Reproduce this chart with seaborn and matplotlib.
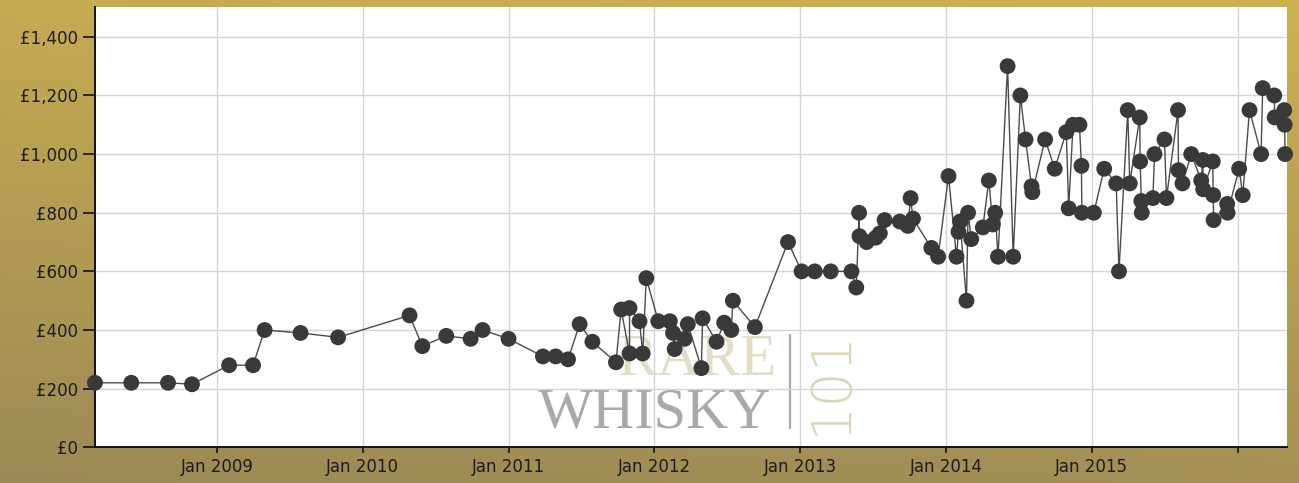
import numpy as np
import pandas as pd
import matplotlib
matplotlib.use("Agg")
import matplotlib.pyplot as plt
from matplotlib.ticker import FuncFormatter
import seaborn as sns

# =========================================================
# Auction prices
# =========================================================
sale_dates = [
    "2008-03-01", "2008-05-31", "2008-08-31", "2008-10-30",
    "2009-01-31", "2009-04-01", "2009-04-30", "2009-07-29", "2009-10-31",
    "2010-04-28", "2010-05-30", "2010-07-29", "2010-09-28", "2010-10-28",
    "2011-01-01", "2011-03-28", "2011-04-29", "2011-05-30", "2011-06-28",
    "2011-07-30", "2011-09-27", "2011-10-10", "2011-10-31", "2011-10-31",
    "2011-11-25", "2011-12-03", "2011-12-12",
    "2012-01-11", "2012-02-09", "2012-02-17", "2012-02-21", "2012-03-17",
    "2012-03-25", "2012-04-28", "2012-05-01", "2012-06-05", "2012-06-24",
    "2012-07-12", "2012-07-16", "2012-09-09", "2012-12-01",
    "2013-01-04", "2013-02-06", "2013-03-18", "2013-05-09", "2013-05-21",
    "2013-05-28", "2013-05-29", "2013-06-16", "2013-07-09", "2013-07-19",
    "2013-07-31", "2013-09-07", "2013-09-27", "2013-10-04", "2013-10-10",
    "2013-11-25", "2013-12-12",
    "2014-01-07", "2014-01-27", "2014-02-01", "2014-02-05", "2014-02-21",
    "2014-02-25", "2014-03-05", "2014-04-03", "2014-04-18", "2014-04-28",
    "2014-05-04", "2014-05-11", "2014-06-04", "2014-06-18", "2014-07-06",
    "2014-07-19", "2014-08-03", "2014-08-05", "2014-09-06", "2014-09-30",
    "2014-10-29", "2014-11-04", "2014-11-15", "2014-12-01", "2014-12-06",
    "2014-12-07",
    "2015-01-06", "2015-02-01", "2015-03-03", "2015-03-10", "2015-04-01",
    "2015-04-06", "2015-05-01", "2015-05-02", "2015-05-05", "2015-05-06",
    "2015-06-03", "2015-06-07", "2015-07-02", "2015-07-07", "2015-08-05",
    "2015-08-06", "2015-08-16", "2015-09-07", "2015-10-02", "2015-10-06",
    "2015-10-07", "2015-10-31", "2015-11-01", "2015-11-02", "2015-12-06",
    "2015-12-07",
    "2016-01-05", "2016-01-14", "2016-01-31", "2016-02-29", "2016-03-04",
    "2016-04-02", "2016-04-03", "2016-04-27", "2016-04-28", "2016-04-29",
]

prices = [
    220, 220, 220, 215,
    280, 280, 400, 390, 375,
    450, 345, 380, 370, 400,
    370, 310, 310, 300, 420,
    360, 290, 470, 475, 320,
    430, 320, 577,
    430, 430, 390, 335, 370,
    420, 270, 440, 360, 425,
    400, 500, 410, 700,
    600, 600, 600, 600, 545,
    800, 720, 700, 715, 730,
    775, 770, 755, 850, 780,
    680, 650,
    925, 650, 735, 770, 500,
    800, 710, 750, 910, 760,
    800, 650, 1300, 650, 1200,
    1050, 890, 870, 1050, 950,
    1075, 815, 1100, 1100, 960,
    800,
    800, 950, 900, 600, 1150,
    900, 1125, 975, 840, 800,
    850, 1000, 1050, 850, 1150,
    945, 900, 1000, 910, 980,
    880, 975, 860, 775, 830,
    800,
    950, 860, 1150, 1000, 1225,
    1200, 1125, 1150, 1100, 1000,
]

year_ticks = ["2009-01-01", "2010-01-01", "2011-01-01", "2012-01-01",
              "2013-01-01", "2014-01-01", "2015-01-01", "2016-01-01"]
year_labels = ["Jan 2009", "Jan 2010", "Jan 2011", "Jan 2012",
               "Jan 2013", "Jan 2014", "Jan 2015", ""]
price_ticks = [0, 200, 400, 600, 800, 1000, 1200, 1400]

df = pd.DataFrame({"date": pd.to_datetime(sale_dates), "price": prices})

# =========================================================
# Figure
# =========================================================
sns.set_theme(style="white")
plt.rcParams["font.family"] = ["DejaVu Sans"]

fig = plt.figure(figsize=(12.99, 4.83), dpi=100)

# gold gradient backdrop
bg = fig.add_axes([0, 0, 1, 1], zorder=-10)
gy = np.linspace(0, 1, 256)[:, None]
gx = np.linspace(0, 1, 256)[None, :]
top = np.array([205, 177, 80]) / 255
bottom = np.array([156, 138, 86]) / 255
mix = gy * 0.85 + (1 - gx) * 0.15
grad = top[None, None, :] * (1 - mix[..., None]) + bottom[None, None, :] * mix[..., None]
bg.imshow(grad, aspect="auto", extent=[0, 1, 0, 1], origin="upper")
bg.axis("off")

ax = fig.add_axes([0.0731, 0.0739, 0.9177, 0.9106])
ax.set_facecolor("white")

sns.lineplot(data=df, x="date", y="price", ax=ax, estimator=None, sort=True,
             color="#4a4a4a", linewidth=1.0, zorder=3)
sns.scatterplot(data=df, x="date", y="price", ax=ax, s=130, color="#393939",
                edgecolor="none", linewidth=0, zorder=4, clip_on=False)

ax.set_xlim(pd.Timestamp("2008-03-01"), pd.Timestamp("2016-05-04"))
ax.set_ylim(0, 1500)

ax.set_xticks(pd.to_datetime(year_ticks))
ax.set_xticklabels(year_labels)
ax.set_yticks(price_ticks)
ax.yaxis.set_major_formatter(FuncFormatter(lambda v, p: f"£{v:,.0f}"))

ax.grid(True, color="#d4d4d4", linewidth=1.0)
ax.set_axisbelow(True)
for side in ["top", "right"]:
    ax.spines[side].set_visible(False)
for side in ["left", "bottom"]:
    ax.spines[side].set_color("#111111")
    ax.spines[side].set_linewidth(1.4)

ax.tick_params(axis="y", direction="out", length=9, width=1.2, color="#111111",
               labelsize=12, labelcolor="#1c1c1c", pad=3, left=True)
ax.tick_params(axis="x", direction="out", length=4, width=1.2, color="#111111",
               labelsize=12, labelcolor="#1c1c1c", pad=4, bottom=True)
ax.set_xlabel("")
ax.set_ylabel("")

# watermark (behind grid and data)
ax.text(697 / 1299, 1 - 375 / 483, "RARE", transform=fig.transFigure,
        family="Liberation Serif", fontsize=43, color="#e2ddc8",
        ha="center", va="baseline", zorder=0.3)
ax.text(655 / 1299, 1 - 428 / 483, "WHISKY", transform=fig.transFigure,
        family="Liberation Serif", fontsize=42, color="#a9a9a9",
        ha="center", va="baseline", zorder=0.3)
ax.add_line(plt.Line2D([790 / 1299, 790 / 1299], [1 - 335 / 483, 1 - 428 / 483],
                       transform=fig.transFigure, color="#a6a6a6",
                       linewidth=1.6, zorder=0.3))
ax.text(831 / 1299, 1 - 382 / 483, "101", transform=fig.transFigure,
        family="DejaVu Sans", fontsize=40, fontweight="light", color="#ddd6b6",
        rotation=90, ha="center", va="center", zorder=0.3)

fig.savefig("out.png", dpi=100)
plt.close(fig)
